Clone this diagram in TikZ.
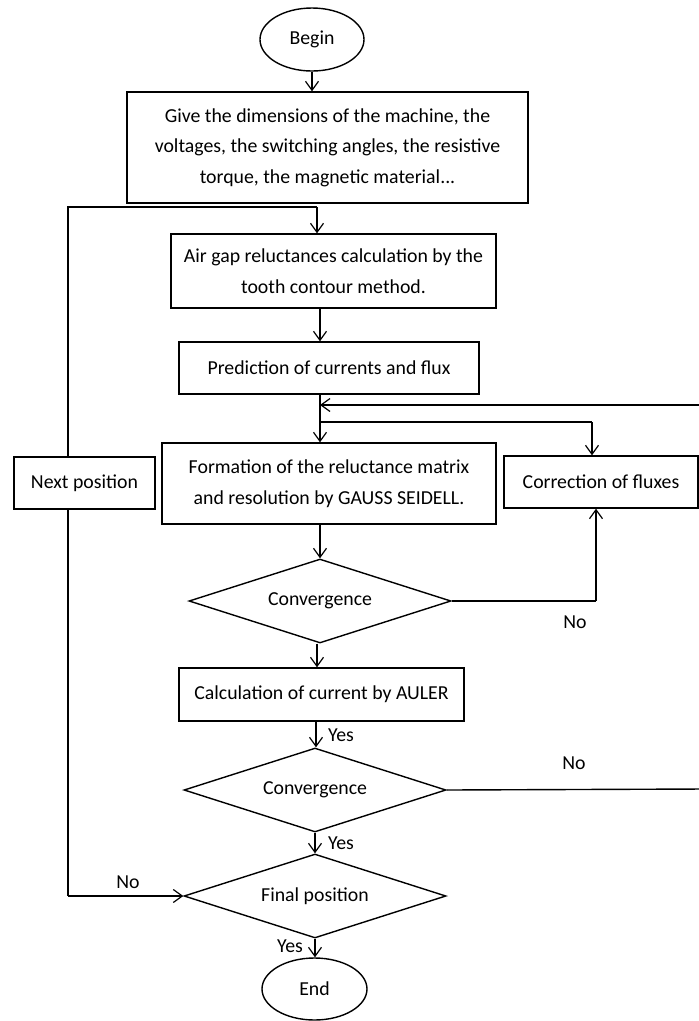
\documentclass[tikz,border=0pt]{standalone}
\usepackage{fontspec}
\setmainfont{Carlito}
\usetikzlibrary{shapes.geometric,arrows.meta}
\begin{document}
\begin{tikzpicture}[x=1pt,y=-1pt,
  every node/.style={font=\fontsize{19.8}{30.5}\selectfont, inner sep=0pt},
  ln/.style={line width=1.4pt, draw=black},
  arr/.style={ln, -{Straight Barb[length=9pt,width=13pt,line width=1.2pt]}},
  procbox/.style={draw, line width=1.4pt, rectangle, align=center},
  decision/.style={draw, line width=1.4pt, diamond, minimum width=262pt, minimum height=84pt, aspect=3.1},
  terminal/.style={draw, line width=1.4pt, ellipse},
  lbl/.style={font=\fontsize{19.8}{22}\selectfont}
]
\useasboundingbox (0,0) rectangle (699,1021);
\clip (0,0) rectangle (699,1021);

\node[terminal, minimum width=104pt, minimum height=63pt] (begin) at (312,39.5) {Begin};
\node[procbox, minimum width=401pt, minimum height=111pt] (b1) at (327.5,147.5)
  {Give the dimensions of the machine, the\\ voltages, the switching angles, the resistive\\ torque, the magnetic material...};
\node[procbox, minimum width=325pt, minimum height=74pt] (b2) at (333.5,271)
  {Air gap reluctances calculation by the\\ tooth contour method.};
\node[procbox, minimum width=300pt, minimum height=52pt] (b3) at (329,368)
  {Prediction of currents and flux};
\node[procbox, minimum width=334pt, minimum height=81pt] (b4) at (329,483.5)
  {Formation of the reluctance matrix\\ and resolution by GAUSS SEIDELL.};
\node[procbox, minimum width=141pt, minimum height=52pt] (next) at (84.5,483) {Next position};
\node[procbox, minimum width=194pt, minimum height=52pt] (corr) at (601,482) {Correction of fluxes};
\node[decision] (d1) at (320,601) {Convergence};
\node[procbox, minimum width=285pt, minimum height=53pt] (b5) at (321.5,694.5)
  {Calculation of current by AULER};
\node[decision] (d2) at (315,790) {Convergence};
\node[decision] (d3) at (315,896) {Final position};
\node[terminal, minimum width=105pt, minimum height=62pt] (end) at (314.5,989) {End};

% helper x-coordinates
\coordinate (x68) at (68,0);
\coordinate (x316) at (316,0);
\coordinate (x317) at (317,0);
\coordinate (x320) at (320,0);

% coordinates
\coordinate (loopL) at (68,207);
\coordinate (loopR) at (317,207);
\coordinate (fbR) at (705,405);
\coordinate (fbL) at (320,405);
\coordinate (brL) at (320,422);
\coordinate (brR) at (592,422);
\coordinate (d1R) at (596,601);
\coordinate (d2R) at (705,789);
\coordinate (nxB) at (68,896);

% connectors
\draw[arr] (begin.south) -- (begin.south |- b1.north);
\draw[ln] (x68 |- next.north) -- (loopL) -- (loopR);
\draw[arr] (loopR) -- (loopR |- b2.north);
\draw[arr] (x320 |- b2.south) -- (x320 |- b3.north);
\draw[arr] (x320 |- b3.south) -- (x320 |- b4.north);
\draw[arr] (fbR) -- (fbL);
\draw[ln] (d2.east) -- (d2R) -- (fbR);
\draw[ln] (brL) -- (brR);
\draw[arr] (brR) -- (brR |- corr.north);
\draw[arr] (b4.south -| x320) -- (d1.north);
\draw[ln] (d1.east) -- (d1R);
\draw[arr] (d1R) -- (d1R |- corr.south);
\draw[arr] (x317 |- d1.south) -- (x317 |- b5.north);
\draw[arr] (x316 |- b5.south) -- (d2.north -| x316);
\draw[arr] (d2.south) -- (d3.north);
\draw[arr] (d3.south) -- (end.north -| d3.south);
\draw[ln] (x68 |- next.south) -- (nxB);
\draw[arr] (nxB) -- (d3.west);

% labels
\node[lbl] (no1) at (575,622) {No};
\node[lbl] (no2) at (574,763) {No};
\node[lbl] (yes1) at (341,735) {Yes};
\node[lbl] (yes2) at (341,843) {Yes};
\node[lbl] (no3) at (128,882) {No};
\node[lbl] (yes3) at (290,946) {Yes};
\end{tikzpicture}
\end{document}
